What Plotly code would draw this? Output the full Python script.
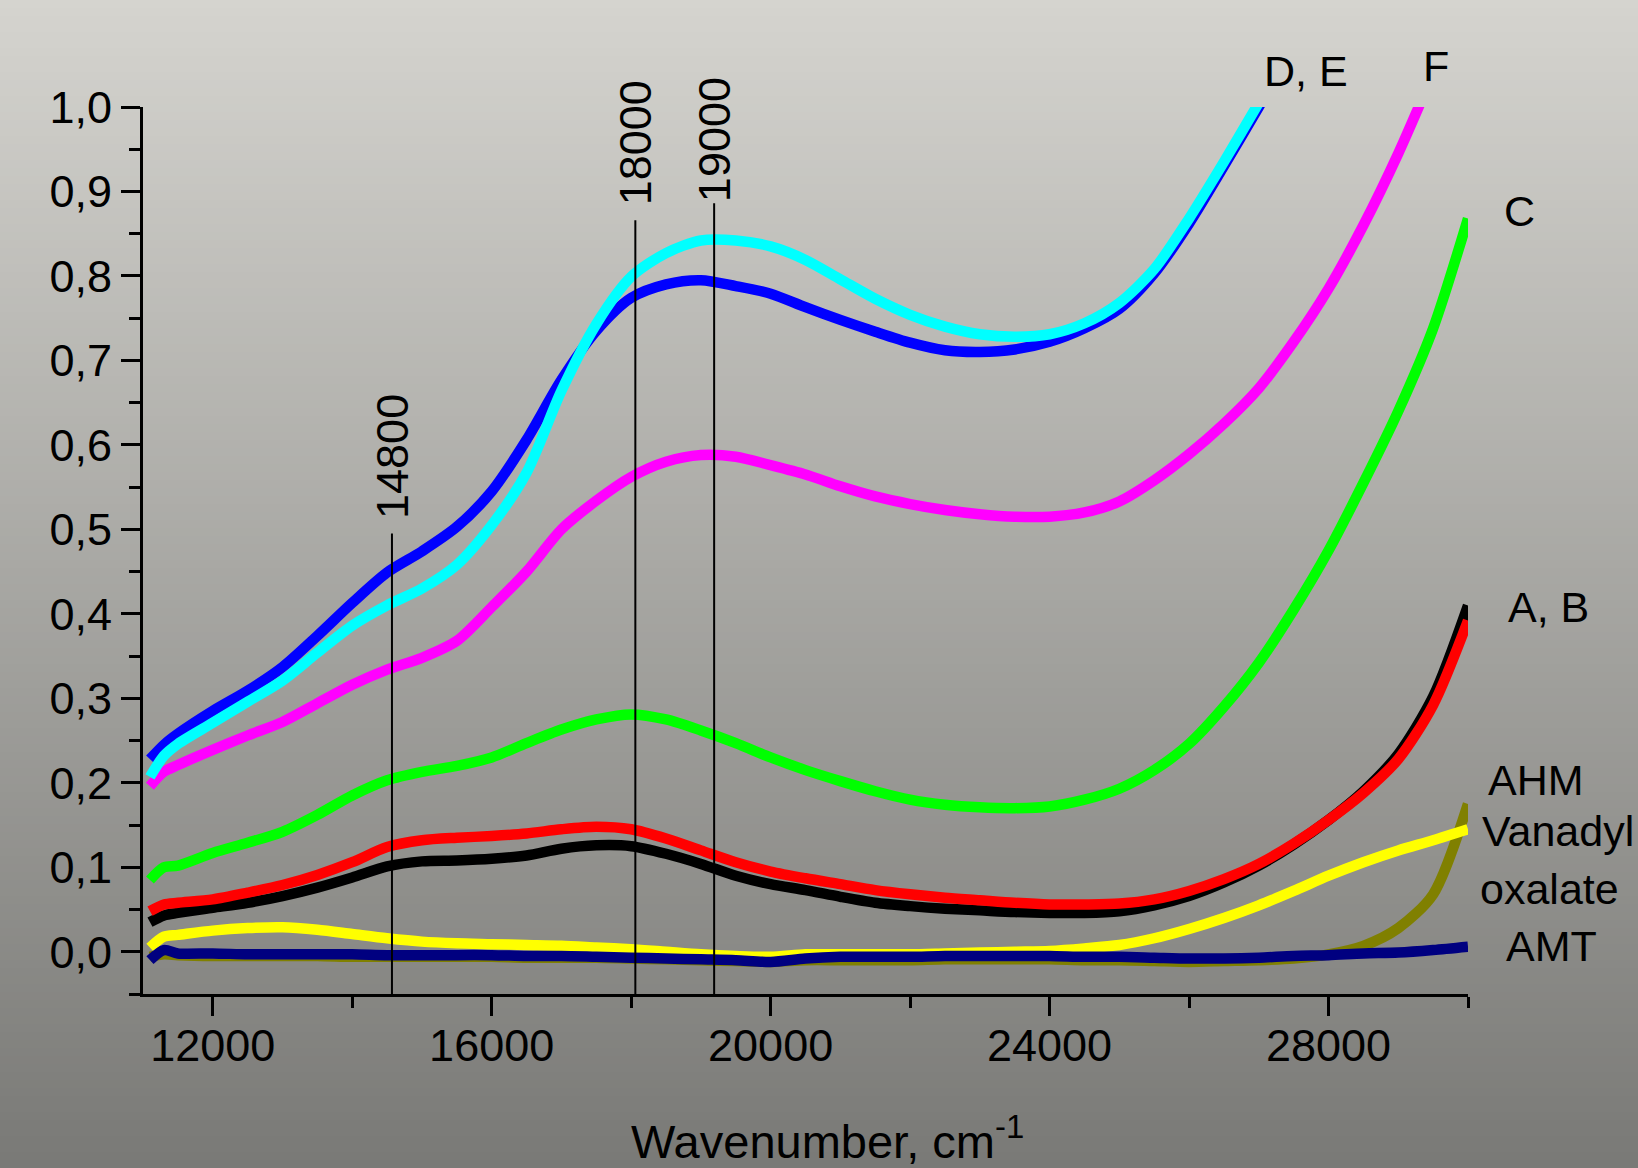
import plotly.graph_objects as go

# ---------------- data ----------------
WAVENUMBER = [11100, 11300, 11500, 12000, 12500, 13000, 13500, 14000, 14500, 15000,
              15500, 16000, 16500, 17000, 17500, 18000, 18500, 19000, 19500, 20000,
              20500, 21000, 21500, 22000, 22500, 23000, 23500, 24000, 24500, 25000,
              25500, 26000, 26500, 27000, 27500, 28000, 28500, 29000, 29500, 30000]

AHM = [-0.006, -0.003, -0.004, -0.005, -0.005, -0.005, -0.005, -0.006, -0.006, -0.006,
       -0.006, -0.006, -0.007, -0.007, -0.007, -0.008, -0.009, -0.010, -0.011, -0.012,
       -0.010, -0.010, -0.010, -0.010, -0.009, -0.009, -0.009, -0.009, -0.010, -0.010,
       -0.011, -0.012, -0.011, -0.010, -0.008, -0.003, 0.007, 0.028, 0.068, 0.175]

VANADYL_OXALATE = [0.005, 0.018, 0.020, 0.025, 0.028, 0.029, 0.026, 0.021, 0.016, 0.012,
                   0.010, 0.009, 0.008, 0.007, 0.005, 0.003, 0.000, -0.003, -0.005, -0.006,
                   -0.003, -0.003, -0.003, -0.003, -0.002, -0.001, 0.000, 0.001, 0.004, 0.008,
                   0.016, 0.027, 0.040, 0.055, 0.072, 0.090, 0.106, 0.120, 0.132, 0.145]

AMT = [-0.010, 0.002, -0.002, -0.002, -0.003, -0.003, -0.003, -0.003, -0.004, -0.004,
       -0.004, -0.004, -0.005, -0.005, -0.006, -0.007, -0.008, -0.009, -0.010, -0.012,
       -0.008, -0.006, -0.006, -0.006, -0.005, -0.005, -0.005, -0.005, -0.006, -0.006,
       -0.007, -0.008, -0.008, -0.007, -0.005, -0.004, -0.002, -0.001, 0.002, 0.006]

SAMPLE_A = [0.035, 0.043, 0.046, 0.052, 0.058, 0.066, 0.076, 0.088, 0.101, 0.107,
            0.108, 0.110, 0.114, 0.122, 0.126, 0.125, 0.116, 0.104, 0.090, 0.080,
            0.073, 0.065, 0.058, 0.054, 0.051, 0.049, 0.047, 0.046, 0.046, 0.048,
            0.055, 0.066, 0.082, 0.102, 0.127, 0.156, 0.190, 0.234, 0.302, 0.410]

SAMPLE_B = [0.048, 0.056, 0.058, 0.062, 0.070, 0.079, 0.091, 0.106, 0.124, 0.132,
            0.135, 0.137, 0.140, 0.145, 0.148, 0.145, 0.134, 0.120, 0.106, 0.095,
            0.087, 0.080, 0.073, 0.068, 0.064, 0.061, 0.058, 0.056, 0.056, 0.057,
            0.062, 0.072, 0.086, 0.104, 0.128, 0.156, 0.188, 0.228, 0.292, 0.392]

SAMPLE_C = [0.085, 0.100, 0.102, 0.117, 0.129, 0.142, 0.162, 0.185, 0.203, 0.213,
            0.220, 0.230, 0.247, 0.263, 0.275, 0.281, 0.275, 0.262, 0.247, 0.230,
            0.215, 0.202, 0.190, 0.180, 0.174, 0.171, 0.170, 0.172, 0.180, 0.193,
            0.215, 0.246, 0.290, 0.342, 0.405, 0.475, 0.555, 0.640, 0.738, 0.868]

SAMPLE_F = [0.196, 0.213, 0.221, 0.239, 0.256, 0.272, 0.294, 0.316, 0.334, 0.348,
            0.368, 0.408, 0.450, 0.500, 0.534, 0.562, 0.580, 0.588, 0.586, 0.576,
            0.565, 0.551, 0.539, 0.530, 0.523, 0.518, 0.515, 0.515, 0.520, 0.533,
            0.558, 0.589, 0.625, 0.667, 0.722, 0.785, 0.860, 0.945, 1.040]

SAMPLE_D = [0.228, 0.245, 0.258, 0.285, 0.309, 0.337, 0.374, 0.413, 0.449, 0.474,
            0.503, 0.545, 0.606, 0.677, 0.735, 0.774, 0.790, 0.795, 0.788, 0.779,
            0.763, 0.748, 0.734, 0.721, 0.712, 0.710, 0.713, 0.722, 0.738, 0.761,
            0.803, 0.862, 0.930, 1.000, 1.070]

SAMPLE_E = [0.207, 0.232, 0.246, 0.271, 0.296, 0.321, 0.354, 0.386, 0.410, 0.430,
            0.458, 0.505, 0.567, 0.664, 0.743, 0.799, 0.827, 0.842, 0.842, 0.835,
            0.819, 0.796, 0.773, 0.754, 0.740, 0.731, 0.728, 0.731, 0.744, 0.768,
            0.808, 0.868, 0.935, 1.005, 1.075]

MARK_X = [14570, 18060, 19190]
MARK_TOP = [0.495, 0.866, 0.886]
MARK_LABELS = ["14800", "18000", "19000"]

Y_TICKS = [0.0, 0.1, 0.2, 0.3, 0.4, 0.5, 0.6, 0.7, 0.8, 0.9, 1.0]
Y_TICKTEXT = ["0,0", "0,1", "0,2", "0,3", "0,4", "0,5", "0,6", "0,7", "0,8", "0,9", "1,0"]
X_TICKS = [12000, 16000, 20000, 24000, 28000]

# ---------------- layout geometry ----------------
W, H = 1638, 1168
ML, MR, MT, MB = 143, 170, 107, 174
PW, PH = W - ML - MR, H - MT - MB
FONT = "Liberation Sans, Arial, Helvetica, sans-serif"


def xp(px):
    return (px - ML) / PW


def yp(py):
    return (H - MB - py) / PH


fig = go.Figure()

series = [
    ("AHM", AHM, "#808000"),
    ("Vanadyl oxalate", VANADYL_OXALATE, "#FFFF00"),
    ("AMT", AMT, "#000080"),
    ("A", SAMPLE_A, "#000000"),
    ("B", SAMPLE_B, "#FF0000"),
    ("C", SAMPLE_C, "#00FF00"),
    ("F", SAMPLE_F, "#FF00FF"),
    ("D", SAMPLE_D, "#0000FF"),
    ("E", SAMPLE_E, "#00FFFF"),
]
for name, vals, col in series:
    fig.add_trace(go.Scatter(
        x=WAVENUMBER[:len(vals)], y=vals, name=name, mode="lines",
        line=dict(color=col, width=10.5, shape="spline", smoothing=0.8),
        showlegend=False, hoverinfo="skip"))

# vertical marker lines
for mx, top in zip(MARK_X, MARK_TOP):
    fig.add_trace(go.Scatter(
        x=[mx, mx], y=[-0.05, top], mode="lines",
        line=dict(color="black", width=2), showlegend=False, hoverinfo="skip"))

# background gradient (bands)
top_c = (213, 212, 207)
bot_c = (121, 121, 118)
shapes = []
band = 8
n = (H + band - 1) // band
for i in range(n):
    t = (i + 0.5) / n
    c = tuple(round(top_c[k] + (bot_c[k] - top_c[k]) * t) for k in range(3))
    y0 = i * band
    y1 = min(H, (i + 1) * band) + 1
    shapes.append(dict(type="rect", xref="paper", yref="paper",
                       x0=xp(0), x1=xp(W), y0=yp(y1), y1=yp(y0),
                       fillcolor="rgb(%d,%d,%d)" % c, line=dict(width=0),
                       layer="below"))

annotations = []
# rotated marker labels
label_centers = [456, 143, 140]
for mx, lab, cy in zip(MARK_X, MARK_LABELS, label_centers):
    annotations.append(dict(x=mx, xref="x", y=yp(cy), yref="paper", text=lab,
                            textangle=-90, showarrow=False, xanchor="center",
                            yanchor="middle", font=dict(size=45, color="black", family=FONT)))

# right-side series labels (left edge px, centre y px)
right_labels = [("D, E", 1262, 71), ("F", 1421, 66), ("C", 1502, 211), ("A, B", 1506, 607),
                ("AHM", 1486, 780), ("Vanadyl", 1480, 831), ("oxalate", 1478, 889),
                ("AMT", 1504, 946)]
for txt, lx, cy in right_labels:
    annotations.append(dict(x=xp(lx), xref="paper", y=yp(cy), yref="paper", text=txt,
                            showarrow=False, xanchor="left", yanchor="middle",
                            font=dict(size=43, color="black", family=FONT)))

# x-axis title
annotations.append(dict(x=xp(827), xref="paper", y=yp(1138), yref="paper",
                        text="Wavenumber, cm<sup>-1</sup>", showarrow=False,
                        xanchor="center", yanchor="middle",
                        font=dict(size=47, color="black", family=FONT)))

fig.update_layout(
    width=W, height=H,
    margin=dict(l=ML, r=MR, t=MT, b=MB, pad=0),
    paper_bgcolor="rgba(0,0,0,0)", plot_bgcolor="rgba(0,0,0,0)",
    shapes=shapes, annotations=annotations,
    font=dict(family=FONT, color="black"),
    xaxis=dict(range=[11000, 30000], showgrid=False, zeroline=False,
               showline=True, linecolor="black", linewidth=3,
               ticks="outside", ticklen=19, tickwidth=3, tickcolor="black",
               tickvals=X_TICKS, ticktext=[str(v) for v in X_TICKS],
               ticklabelstandoff=-9,
               tickfont=dict(size=45, color="black", family=FONT),
               minor=dict(ticks="outside", ticklen=11, tickwidth=3, tickcolor="black",
                          dtick=2000, tick0=0, showgrid=False)),
    yaxis=dict(range=[-0.05, 1.0], showgrid=False, zeroline=False,
               showline=True, linecolor="black", linewidth=3,
               ticks="outside", ticklen=19, tickwidth=3, tickcolor="black",
               tickvals=Y_TICKS, ticktext=Y_TICKTEXT,
               tickfont=dict(size=45, color="black", family=FONT),
               minor=dict(ticks="outside", ticklen=11, tickwidth=3, tickcolor="black",
                          dtick=0.05, tick0=0, showgrid=False)),
)

fig.write_html("out.html")
